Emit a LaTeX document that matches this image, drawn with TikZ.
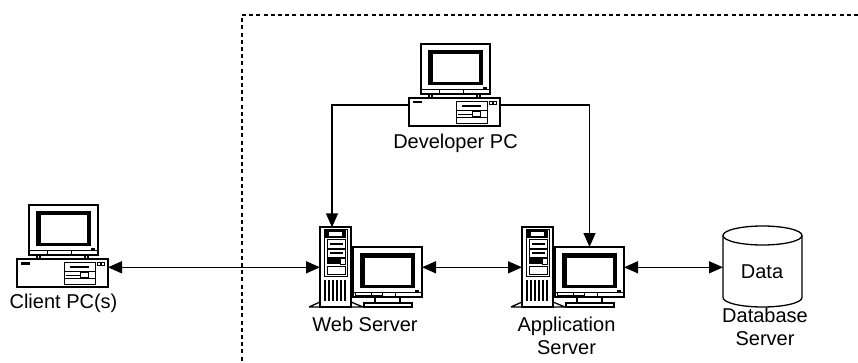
\documentclass[tikz,border=0pt]{standalone}
\usepackage{fontspec}
\setmainfont{Liberation Sans}
\usetikzlibrary{arrows.meta}
\tikzset{
  x=1pt,y=-1pt,
  lbl/.style={inner sep=0pt,align=center,font=\fontsize{20}{23}\selectfont},
  link/.style={line width=1.5pt,-{Triangle[length=14pt,width=12pt]}},
  biglink/.style={line width=1.5pt,{Triangle[length=14pt,width=12pt]}-{Triangle[length=14pt,width=12pt]}},
  hit/.style={inner sep=0pt,outer sep=0pt,minimum width=#1},
  boundary/.style={line width=1.5pt,dash pattern=on 4pt off 3.2pt},
  ol/.style={line width=1.3pt},
  thin ol/.style={line width=0.8pt},
  crt/.pic={
    \draw[ol,fill=white] (0,0) rectangle (69,50);
    \fill[black] (7,6) rectangle (62,41);
    \fill[white] (12,10.5) rectangle (58,38);
    \draw[thin ol] (0,45) -- (69,45);
    \draw[thin ol] (18,45) -- (18,50) (42,45) -- (42,50);
    \fill[black] (62,43) rectangle (66,45.5);
  },
  desktop/.pic={
    \draw[ol,fill=white] (0,0) rectangle (91,28);
    \pic at (12,-54) {crt};
    \draw[ol] (20,-4) -- (20,0) (71,-4) -- (71,0) (23,-4) -- (23,0) (68,-4) -- (68,0);
    \fill[black] (4,3) rectangle (13,5.5);
    \draw[thin ol] (47,3) rectangle (78,25);
    \draw[thin ol] (47,12) -- (78,12) (47,19) -- (78,19);
    \draw[line width=1.4pt] (53,8) -- (72,8);
    \draw[thin ol] (49,16) -- (63,16);
    \draw[thin ol,fill=white] (63,13.5) rectangle (71,18);
    \draw[line width=0.6pt] (80,3) rectangle (83,6) (84,3) rectangle (87,6);
  },
  towerbox/.pic={
    \draw[ol,fill=white] (0,0) rectangle (31,80);
    \draw[ol] (-11,80) -- (0,75) (31,75) -- (43,80) (-11,80) -- (43,80);
    \draw[thin ol] (4,2) rectangle (27,49);
    \fill[black] (5,3) rectangle (26,11);
    \fill[white] (9,4.5) rectangle (22,9);
    \draw[thin ol] (7,12.5) rectangle (25,21);
    \fill[black] (10,16) rectangle (23,18);
    \draw[thin ol] (7,22) rectangle (25,30);
    \fill[black] (10,25) rectangle (23,27);
    \fill[black] (7,31) rectangle (20,37);
    \draw[thin ol] (20,31) rectangle (25,37);
    \draw[thin ol] (7,39) rectangle (25,47);
    \foreach \i in {0,...,5}{\fill[black] ({4+\i*4},53) rectangle ({6.4+\i*4},74);}
  },
  panel/.pic={
    \pic at (0,0) {towerbox};
    \pic at (33,20) {crt};
    \draw[ol] (55,71) -- (55,76) (80,71) -- (80,76);
    \draw[ol,fill=white] (44,76) rectangle (92,80);
    \draw[thin ol] (35,65) rectangle (62,68);
  }
}
\begin{document}
\begin{tikzpicture}
\useasboundingbox (0,0) rectangle (858,363);
\coordinate (boxtop) at (858,15);
\coordinate (boxcorner) at (242,15);
\coordinate (boxbottom) at (242,363);
\draw[boundary] (boxtop) -- (boxcorner) -- (boxbottom);

\pic at (17,259) {desktop};
\pic at (409,98) {desktop};
\pic at (320,227) {panel};
\pic at (522,227) {panel};

\node[hit=91pt,minimum height=28pt] (client) at (62.5,273) {};
\node[hit=91pt,minimum height=28pt] (dev) at (454.5,112) {};
\node[hit=31pt,minimum height=80pt] (web) at (335.5,267.3) {};
\node[hit=69pt,minimum height=51pt] (webmon) at (387.5,272.5) {};
\node[hit=31pt,minimum height=80pt] (app) at (537.5,267.3) {};
\node[hit=69pt,minimum height=51pt] (appmon) at (589.5,272.5) {};

% database cylinder
\node[hit=79pt,minimum height=81pt] (db) at (762.5,266.5) {};
\draw[ol,fill=white] (723,235.5) -- (723,297.5) arc[start angle=180,end angle=360,x radius=39.5pt,y radius=9.5pt] -- (802,235.5);
\draw[ol] (762.5,235.5) ellipse[x radius=39.5pt,y radius=9.5pt];

\node[lbl] (data) at (762,272) {Data};
\node[lbl] (clientlabel) at (63.5,303) {Client PC(s)};
\node[lbl] (devlabel) at (455.5,143) {Developer PC};
\node[lbl] (weblabel) at (365,324) {Web Server};
\node[lbl] (applabel) at (566.5,335.5) {Application\\Server};
\node[lbl] (dblabel) at (765,327) {Database\\Server};

\draw[biglink] (client.east |- web.west) -- (web.west);
\draw[biglink] (webmon.east |- app.west) -- (app.west);
\draw[biglink] (appmon.east |- app.west) -- (db.west |- app.west);
\draw[link] ([yshift=7pt]dev.west) -| ([xshift=-3.5pt]web.north);
\draw[link] ([yshift=7pt]dev.east) -| (appmon.north);
\end{tikzpicture}
\end{document}
